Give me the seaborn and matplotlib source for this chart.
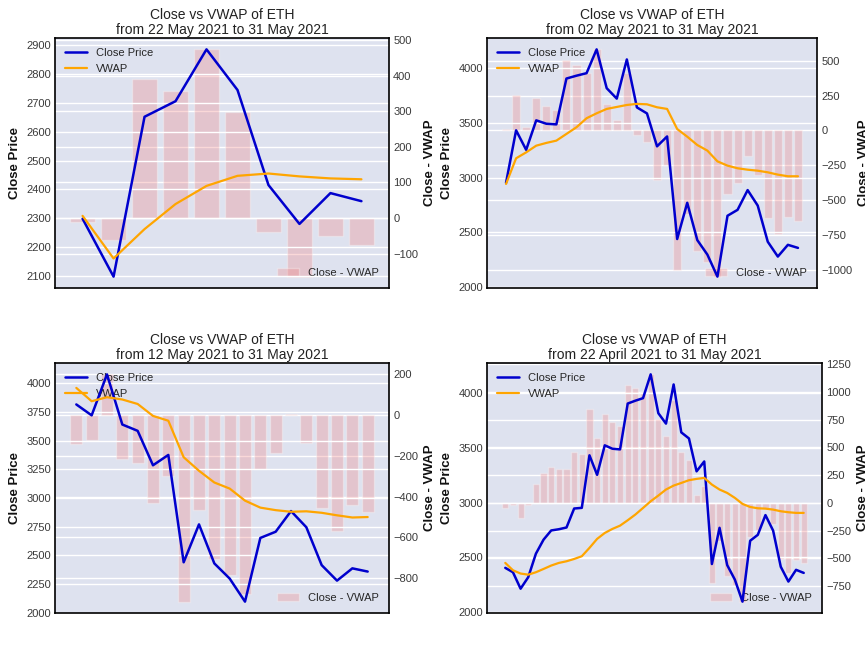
import matplotlib
matplotlib.use("Agg")
import matplotlib.pyplot as plt
from matplotlib.ticker import MultipleLocator
import numpy as np
import pandas as pd
import seaborn as sns

# ---- data -------------------------------------------------------------
# ETH daily close, 22 April 2021 .. 31 May 2021 (40 days)
close_prices = [2405, 2365, 2215, 2320, 2534, 2662, 2746, 2757, 2773, 2946,
                2952, 3431, 3253, 3522, 3491, 3485, 3903, 3929, 3952, 4169,
                3815, 3720, 4077, 3640, 3585, 3285, 3375, 2440, 2770, 2430,
                2298, 2097, 2652, 2706, 2886, 2745, 2415, 2280, 2387, 2359]

# cumulative VWAP per window (each panel starts its own VWAP)
vwap_22may = [2308, 2160, 2262, 2349, 2412, 2447, 2455, 2445, 2438, 2435]
vwap_02may = [2942, 3176, 3230, 3291, 3316, 3337, 3398, 3459, 3541, 3586,
              3626, 3644, 3662, 3672, 3668, 3641, 3626, 3443, 3373, 3297,
              3246, 3148, 3109, 3085, 3072, 3063, 3048, 3027, 3012, 3012]
vwap_12may = [3959, 3843, 3878, 3858, 3819, 3715, 3673, 3355, 3237, 3135,
              3082, 2977, 2916, 2894, 2880, 2884, 2871, 2849, 2830, 2834]
vwap_22apr = [2450, 2383, 2353, 2343, 2365, 2395, 2426, 2450, 2465, 2486,
              2511, 2587, 2669, 2723, 2760, 2790, 2839, 2891, 2951, 3012,
              3064, 3119, 3155, 3179, 3204, 3216, 3225, 3164, 3119, 3088,
              3043, 2988, 2960, 2948, 2945, 2936, 2921, 2912, 2906, 2906]

start_labels = ["22 May 2021", "02 May 2021", "12 May 2021", "22 April 2021"]
end_label = "31 May 2021"
vwap_series = [vwap_22may, vwap_02may, vwap_12may, vwap_22apr]
left_tick_steps = [100, 500, 250, 500]
right_tick_steps = [100, 250, 200, 250]

# ---- style --------------------------------------------------------------
BG = "#dee2ef"
sns.set_theme(style="darkgrid", rc={
    "axes.facecolor": BG,
    "axes.edgecolor": "black",
    "axes.linewidth": 1.2,
    "grid.color": "white",
    "grid.linewidth": 1.0,
    "xtick.labelsize": 8,
    "ytick.labelsize": 8,
    "ytick.color": "#3a3a3a",
    "legend.fontsize": 8,
})
plt.rcParams["font.family"] = ["Liberation Sans", "DejaVu Sans"]

fig = plt.figure(figsize=(8.65, 6.49), dpi=100)
W, H = 865, 649
boxes = [(55, 38, 389, 288), (487, 38, 817, 288),
         (55, 363, 389, 613), (487, 363, 822, 613)]

for (x0, y0, x1, y1), vwap, start, lstep, rstep in zip(
        boxes, vwap_series, start_labels, left_tick_steps, right_tick_steps):
    n = len(vwap)
    close = close_prices[-n:]
    df = pd.DataFrame({"day": np.arange(n), "close": close, "vwap": vwap})
    df["diff"] = df["close"] - df["vwap"]

    ax = fig.add_axes([x0 / W, 1 - y1 / H, (x1 - x0) / W, (y1 - y0) / H])
    ax2 = ax.twinx()

    sns.barplot(data=df, x="day", y="diff", ax=ax2, native_scale=True,
                color="lightcoral", alpha=0.3, saturation=1,
                label="Close - VWAP", width=0.8)
    sns.lineplot(data=df, x="day", y="close", ax=ax, color="mediumblue",
                 lw=1.8, label="Close Price")
    sns.lineplot(data=df, x="day", y="vwap", ax=ax, color="orange",
                 lw=1.6, label="VWAP")

    # lines (left axis) drawn above the bars (right axis)
    ax.set_zorder(ax2.get_zorder() + 1)
    ax.patch.set_visible(False)
    ax2.patch.set_visible(True)
    ax2.patch.set_facecolor(BG)

    span = (n - 1) + 0.8
    ax.set_xlim(-0.4 - 0.05 * span, n - 1 + 0.4 + 0.05 * span)
    ax.set_xticks([])
    ax.set_xlabel("")
    ax2.set_xlabel("")
    ax.yaxis.set_major_locator(MultipleLocator(lstep))
    ax2.yaxis.set_major_locator(MultipleLocator(rstep))
    ax2.grid(True, axis="y", color="white", lw=1.0)
    ax2.grid(False, axis="x")
    ax.grid(True, axis="y", color="white", lw=1.0)
    ax.grid(False, axis="x")
    for sp in ax2.spines.values():
        sp.set_visible(False)
    for sp in ax.spines.values():
        sp.set_color("black")
        sp.set_linewidth(1.2)

    ax.set_ylabel("Close Price", fontsize=9.5, fontweight="bold", color="#111111")
    ax2.set_ylabel("Close - VWAP", fontsize=9.5, fontweight="bold", color="#111111")
    ax.set_title(f"Close vs VWAP of ETH\nfrom {start} to {end_label}",
                 fontsize=10, color="#222222", pad=3, linespacing=1.12)

    leg = ax.legend(loc="upper left", frameon=False, fontsize=8)
    leg.set_zorder(1)
    ax2.legend(loc="lower right", frameon=False, fontsize=8)

    ax.tick_params(axis="y", length=0, pad=3)
    ax2.tick_params(axis="y", length=0, pad=3)

fig.savefig("out.png", dpi=100)
